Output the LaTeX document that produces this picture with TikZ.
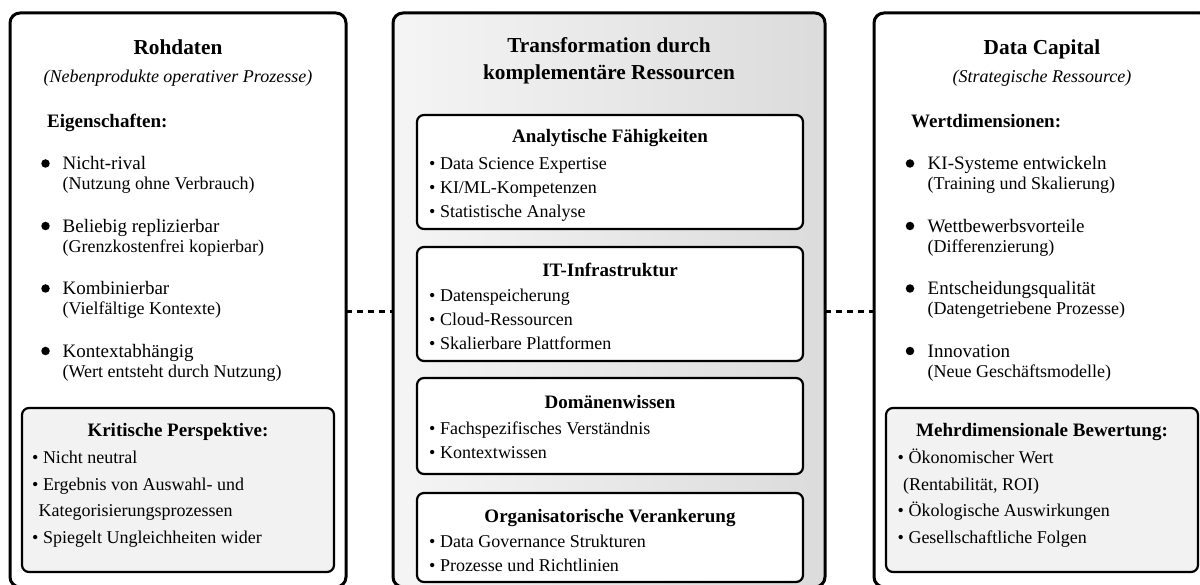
\documentclass[tikz,border=0pt]{standalone}
\usepackage{fontspec}
\setmainfont{Liberation Serif}
\begin{document}
\begin{tikzpicture}[x=1pt,y=-1pt,
  outerbox/.style={draw=black, line width=3pt, rounded corners=10pt, anchor=north west, inner sep=0pt, outer sep=0pt, fill=white},
  innerbox/.style={draw=black, line width=2.2pt, rounded corners=7pt, anchor=north west, inner sep=0pt, outer sep=0pt, fill=white},
  notebox/.style={innerbox, fill=black!5},
  link/.style={draw=black, line width=3pt, dash pattern=on 6pt off 5pt},
  maintitle/.style={anchor=base, inner sep=0pt, font=\fontsize{21.3}{25}\selectfont\bfseries},
  subtitle/.style={anchor=base, inner sep=0pt, font=\fontsize{18}{22}\selectfont\itshape},
  heading/.style={anchor=base west, inner sep=0pt, font=\fontsize{19}{23}\selectfont\bfseries},
  boxtitle/.style={anchor=base, inner sep=0pt, font=\fontsize{19}{23}\selectfont\bfseries},
  itemmain/.style={anchor=base west, inner sep=0pt, font=\fontsize{19}{23}\selectfont},
  itemsub/.style={anchor=base west, inner sep=0pt, font=\fontsize{18}{22}\selectfont},
  listitem/.style={anchor=base west, inner sep=0pt, font=\fontsize{18}{22}\selectfont},
  dot/.style={circle, fill=black, inner sep=0pt, minimum size=8.5pt}]

\useasboundingbox (0,0) rectangle (1200,585);
\clip (0,0) rectangle (1200,585);

% ---------- three columns ----------
\node[outerbox, minimum width=336, minimum height=574] (L) at (10,13) {};
\node[outerbox, left color=black!4, right color=black!14, minimum width=432, minimum height=574] (M) at (393,13) {};
\node[outerbox, minimum width=336, minimum height=574] (R) at (874,13) {};

% dashed links between the columns
\coordinate (cy) at (0,312);
\draw[link] (L.east |- cy) -- (M.west |- cy);
\draw[link] (M.east |- cy) -- (R.west |- cy);

% ---------- left column: raw data ----------
\node[maintitle] (lt) at (178,55) {Rohdaten};
\node[subtitle] (ls) at (178,83) {(Nebenprodukte operativer Prozesse)};
\node[heading] (lh) at (47,128) {Eigenschaften:};

\node[dot] (ld1) at (45.5,163.5) {};
\node[itemmain] (l1a) at (62.5,170) {Nicht-rival};
\node[itemsub] (l1b) at (62.5,190) {(Nutzung ohne Verbrauch)};
\node[dot] (ld2) at (45.5,226) {};
\node[itemmain] (l2a) at (62.5,232.5) {Beliebig replizierbar};
\node[itemsub] (l2b) at (62.5,252.5) {(Grenzkostenfrei kopierbar)};
\node[dot] (ld3) at (45.5,288.5) {};
\node[itemmain] (l3a) at (62.5,295) {Kombinierbar};
\node[itemsub] (l3b) at (62.5,315) {(Vielfältige Kontexte)};
\node[dot] (ld4) at (45.5,351) {};
\node[itemmain] (l4a) at (62.5,357.5) {Kontextabhängig};
\node[itemsub] (l4b) at (62.5,377.5) {(Wert entsteht durch Nutzung)};

\node[notebox, minimum width=312, minimum height=164] (LK) at (22,408) {};
\node[boxtitle] (lkt) at (178,436) {Kritische Perspektive:};
\node[listitem] (lk1) at (32,463) {\textbullet{} Nicht neutral};
\node[listitem] (lk2) at (32,490) {\textbullet{} Ergebnis von Auswahl- und};
\node[listitem] (lk3) at (38.5,516.5) {Kategorisierungsprozessen};
\node[listitem] (lk4) at (32,543) {\textbullet{} Spiegelt Ungleichheiten wider};

% ---------- middle column: complementary resources ----------
\node[maintitle] (mt1) at (609,53) {Transformation durch};
\node[maintitle] (mt2) at (609,80) {komplementäre Ressourcen};

\node[innerbox, minimum width=386, minimum height=114] (MA) at (417,115) {};
\node[boxtitle] (mat) at (610,143) {Analytische Fähigkeiten};
\node[listitem] (ma1) at (429,170) {\textbullet{} Data Science Expertise};
\node[listitem] (ma2) at (429,194) {\textbullet{} KI/ML-Kompetenzen};
\node[listitem] (ma3) at (429,218) {\textbullet{} Statistische Analyse};

\node[innerbox, minimum width=386, minimum height=114] (MI) at (417,247) {};
\node[boxtitle] (mit) at (610,277) {IT-Infrastruktur};
\node[listitem] (mi1) at (429,302) {\textbullet{} Datenspeicherung};
\node[listitem] (mi2) at (429,326) {\textbullet{} Cloud-Ressourcen};
\node[listitem] (mi3) at (429,350) {\textbullet{} Skalierbare Plattformen};

\node[innerbox, minimum width=386, minimum height=96] (MD) at (417,378) {};
\node[boxtitle] (mdt) at (610,408) {Domänenwissen};
\node[listitem] (md1) at (429,434.5) {\textbullet{} Fachspezifisches Verständnis};
\node[listitem] (md2) at (429,458) {\textbullet{} Kontextwissen};

\node[innerbox, minimum width=386, minimum height=89] (MO) at (417,493) {};
\node[boxtitle] (mot) at (610,522) {Organisatorische Verankerung};
\node[listitem] (mo1) at (429,547) {\textbullet{} Data Governance Strukturen};
\node[listitem] (mo2) at (429,571.5) {\textbullet{} Prozesse und Richtlinien};

% ---------- right column: data capital ----------
\node[maintitle] (rt) at (1042,55) {Data Capital};
\node[subtitle] (rs) at (1042,83) {(Strategische Ressource)};
\node[heading] (rh) at (911,128) {Wertdimensionen:};

\node[dot] (rd1) at (910,163.5) {};
\node[itemmain] (r1a) at (927.5,170) {KI-Systeme entwickeln};
\node[itemsub] (r1b) at (927.5,190) {(Training und Skalierung)};
\node[dot] (rd2) at (910,226) {};
\node[itemmain] (r2a) at (927.5,232.5) {Wettbewerbsvorteile};
\node[itemsub] (r2b) at (927.5,252.5) {(Differenzierung)};
\node[dot] (rd3) at (910,288.5) {};
\node[itemmain] (r3a) at (927.5,295) {Entscheidungsqualität};
\node[itemsub] (r3b) at (927.5,315) {(Datengetriebene Prozesse)};
\node[dot] (rd4) at (910,351) {};
\node[itemmain] (r4a) at (927.5,357.5) {Innovation};
\node[itemsub] (r4b) at (927.5,377.5) {(Neue Geschäftsmodelle)};

\node[notebox, minimum width=312, minimum height=164] (RM) at (886,408) {};
\node[boxtitle] (rmt) at (1042,436) {Mehrdimensionale Bewertung:};
\node[listitem] (rm1) at (897.5,463) {\textbullet{} Ökonomischer Wert};
\node[listitem] (rm2) at (903,490) {(Rentabilität, ROI)};
\node[listitem] (rm3) at (897.5,516.5) {\textbullet{} Ökologische Auswirkungen};
\node[listitem] (rm4) at (897.5,543) {\textbullet{} Gesellschaftliche Folgen};

\end{tikzpicture}
\end{document}
